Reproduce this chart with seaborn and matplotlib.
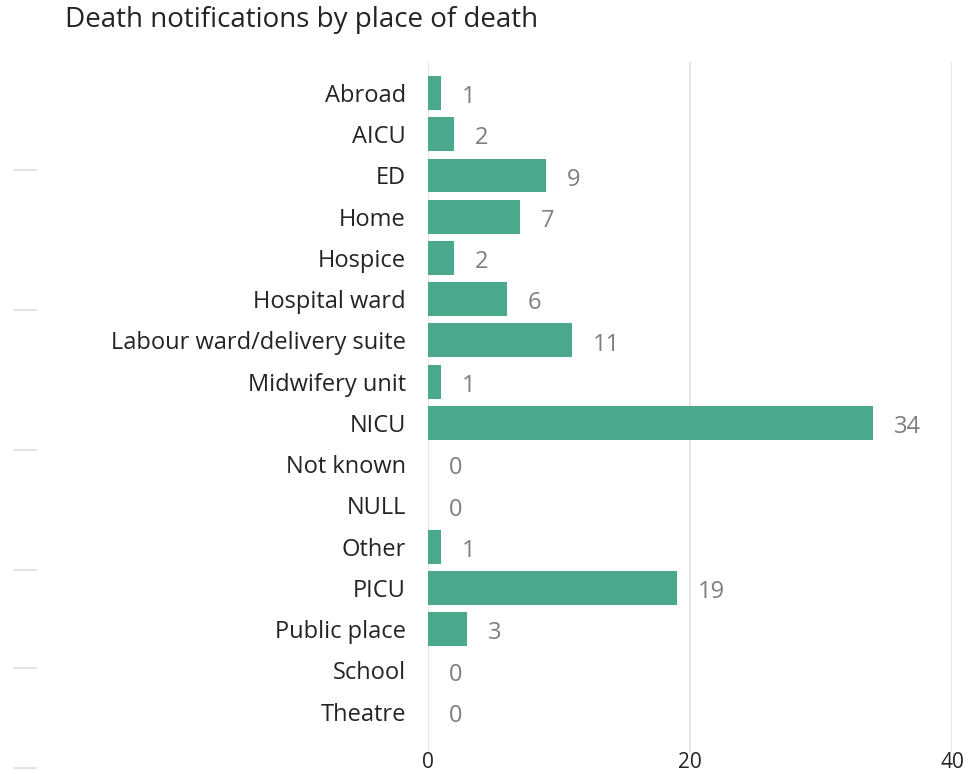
import matplotlib
matplotlib.use("Agg")
import matplotlib.pyplot as plt
import seaborn as sns
import pandas as pd
from matplotlib.lines import Line2D

# data
places = ["Abroad", "AICU", "ED", "Home", "Hospice", "Hospital ward",
          "Labour ward/delivery suite", "Midwifery unit", "NICU", "Not known",
          "NULL", "Other", "PICU", "Public place", "School", "Theatre"]
deaths = [1, 2, 9, 7, 2, 6, 11, 1, 34, 0, 0, 1, 19, 3, 0, 0]
x_ticks = [0, 20, 40]

BAR = "#4aa98c"
FONT = ["Open Sans", "DejaVu Sans"]

sns.set_theme(style="white")
plt.rcParams["font.family"] = FONT

df = pd.DataFrame({"place": places, "deaths": deaths})

fig = plt.figure(figsize=(9.68, 7.74), dpi=100)
ax = fig.add_axes([428 / 968, 1 - 752 / 774, (952 - 428) / 968, (752 - 62) / 774])

sns.barplot(data=df, x="deaths", y="place", color=BAR, width=0.82,
            saturation=1, linewidth=0, ax=ax, zorder=3)

ax.set_xlim(0, 40)
ax.set_ylim(len(places) - 1 + 0.98, -0.75)
ax.set_xticks(x_ticks)
ax.xaxis.grid(True, color="#e6e6e6", linewidth=1.5, zorder=0)
ax.yaxis.grid(False)
for s in ax.spines.values():
    s.set_visible(False)
ax.set_xlabel("")
ax.set_ylabel("")
ax.tick_params(axis="y", length=0, pad=16, labelsize=17, labelcolor="#252423")
ax.tick_params(axis="x", length=0, pad=0, labelsize=15, labelcolor="#252423")

# value labels
for i, v in enumerate(deaths):
    ax.annotate(str(v), xy=(v, i), xytext=(15, -3), textcoords="offset points",
                ha="left", va="center", fontsize=17, color="#7f7f7f")

fig.text(65 / 968, 1 - 20 / 774, "Death notifications by place of death",
         fontsize=20, color="#252423", ha="left", va="center")

# faint left-margin dashes seen in the reference
for yy in [170, 310, 450, 570, 668, 768]:
    fig.add_artist(Line2D([14 / 968, 36 / 968], [1 - yy / 774] * 2,
                          color="#e3e3e3", linewidth=1.5))

fig.savefig("out.png", dpi=100)
